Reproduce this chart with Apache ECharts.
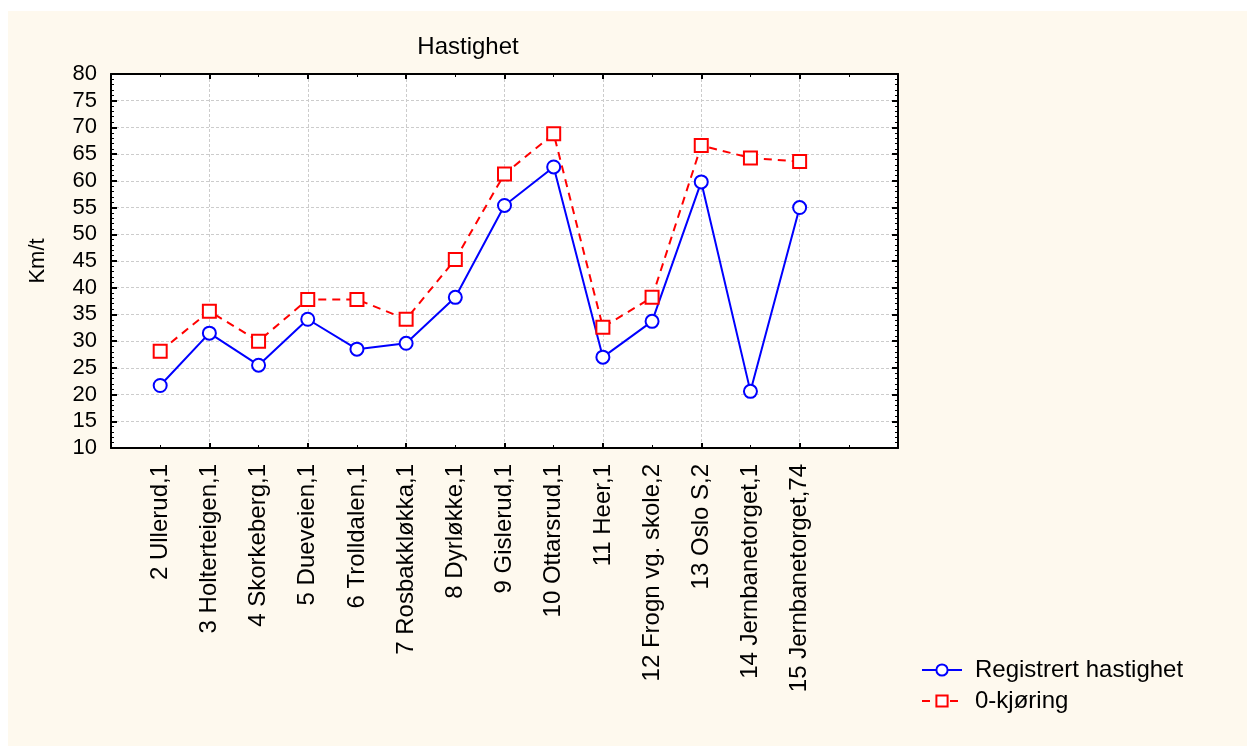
<!DOCTYPE html>
<html>
<head>
<meta charset="utf-8">
<script src="https://cdn.jsdelivr.net/npm/echarts@6/dist/echarts.min.js"></script>
<style>
html,body{margin:0;padding:0;background:#fff;}
#chart{width:1247px;height:746px;}
</style>
</head>
<body>
<div id="chart"></div>
<script>
const categories = [
  "2 Ullerud,1", "3 Holterteigen,1", "4 Skorkeberg,1", "5 Dueveien,1",
  "6 Trolldalen,1", "7 Rosbakkløkka,1", "8 Dyrløkke,1", "9 Gislerud,1",
  "10 Ottarsrud,1", "11 Heer,1", "12 Frogn vg. skole,2", "13 Oslo S,2",
  "14 Jernbanetorget,1", "15 Jernbanetorget,74"
];
const registrert = [21.7, 31.5, 25.5, 34.1, 28.5, 29.6, 38.2, 55.4, 62.6, 27.0, 33.7, 59.8, 20.6, 55.0];
const nullkjoring = [28.1, 35.6, 30.0, 37.8, 37.8, 34.1, 45.3, 61.3, 68.8, 32.6, 38.2, 66.6, 64.3, 63.6];
const seriesNames = ["Registrert hastighet", "0-kjøring"];
const titleText = "Hastighet";
const yName = "Km/t";

const FONT = "'Liberation Sans', Arial, sans-serif";
const chart = echarts.init(document.getElementById('chart'), null, {renderer: 'canvas'});

const axisLine = {show: true, onZero: false, lineStyle: {color: '#000', width: 2}};
const gridLine = {show: true, lineStyle: {color: '#cccccc', type: [3, 2], width: 1}};

const option = {
  backgroundColor: '#ffffff',
  animation: false,
  textStyle: {fontFamily: FONT},
  graphic: [{
    type: 'rect', z: -10, silent: true,
    shape: {x: 8, y: 11, width: 1239, height: 735},
    style: {fill: '#FEF9EE'}
  }],
  title: {
    text: titleText, left: 463, top: 30, textAlign: 'center',
    textStyle: {fontFamily: FONT, fontSize: 24, fontWeight: 'normal', color: '#000'}
  },
  legend: {
    orient: 'vertical', left: 916, top: 653,
    itemWidth: 40, itemHeight: 14, itemGap: 7,
    textStyle: {fontFamily: FONT, fontSize: 24, color: '#000', padding: [0, 0, 0, 8]},
    data: seriesNames
  },
  grid: {left: 111, top: 74, right: 349, bottom: 298, backgroundColor: '#fff', show: true, borderWidth: 0},
  xAxis: [
    {
      type: 'value', min: 0, max: 16, interval: 1, position: 'bottom',
      axisLine: axisLine,
      axisTick: {show: false},
      splitLine: {show: false},
      axisLabel: {
        rotate: 90, margin: 16, fontSize: 24, color: '#000', fontFamily: FONT,
        formatter: function (v) { return categories[v - 1] || ''; }
      }
    },
    {
      type: 'value', min: 0, max: 16, interval: 2, position: 'bottom',
      axisLine: {show: false},
      axisTick: {show: true, inside: true, length: 5, lineStyle: {color: '#000', width: 2}},
      minorTick: {show: true, splitNumber: 2, length: 3, lineStyle: {color: '#000', width: 1}},
      splitLine: gridLine,
      axisLabel: {show: false}
    },
    {
      type: 'value', min: 0, max: 16, interval: 2, position: 'top',
      axisLine: axisLine,
      axisTick: {show: true, inside: true, length: 5, lineStyle: {color: '#000', width: 2}},
      minorTick: {show: true, splitNumber: 2, length: 3, lineStyle: {color: '#000', width: 1}},
      splitLine: {show: false},
      axisLabel: {show: false}
    }
  ],
  yAxis: [
    {
      type: 'value', min: 10, max: 80, interval: 5, position: 'left',
      name: yName, nameLocation: 'middle', nameRotate: 90, nameGap: 62,
      nameTextStyle: {fontFamily: FONT, fontSize: 22, color: '#000'},
      axisLine: axisLine,
      axisTick: {show: true, inside: true, length: 6, lineStyle: {color: '#000', width: 2}},
      minorTick: {show: true, splitNumber: 5, length: 3, lineStyle: {color: '#000', width: 1}},
      splitLine: gridLine,
      axisLabel: {fontSize: 22, color: '#000', fontFamily: FONT, margin: 14}
    },
    {
      type: 'value', min: 10, max: 80, interval: 5, position: 'right',
      axisLine: axisLine,
      axisTick: {show: true, inside: true, length: 6, lineStyle: {color: '#000', width: 2}},
      minorTick: {show: true, splitNumber: 5, length: 3, lineStyle: {color: '#000', width: 1}},
      splitLine: {show: false},
      axisLabel: {show: false}
    }
  ],
  series: [
    {
      name: seriesNames[0], type: 'line', xAxisIndex: 0, yAxisIndex: 0,
      data: registrert.map((v, i) => [i + 1, v]),
      symbol: 'emptyCircle', symbolSize: 13,
      lineStyle: {color: '#0000FF', width: 2},
      itemStyle: {color: '#0000FF', borderWidth: 2, borderColor: '#0000FF'},
      z: 3
    },
    {
      name: seriesNames[1], type: 'line', xAxisIndex: 0, yAxisIndex: 0,
      data: nullkjoring.map((v, i) => [i + 1, v]),
      symbol: 'emptyRect', symbolSize: 13,
      lineStyle: {color: '#FF0000', width: 2, type: [8, 6]},
      itemStyle: {color: '#FF0000', borderWidth: 2, borderColor: '#FF0000'},
      z: 3
    }
  ]
};
chart.setOption(option);
</script>
</body>
</html>
